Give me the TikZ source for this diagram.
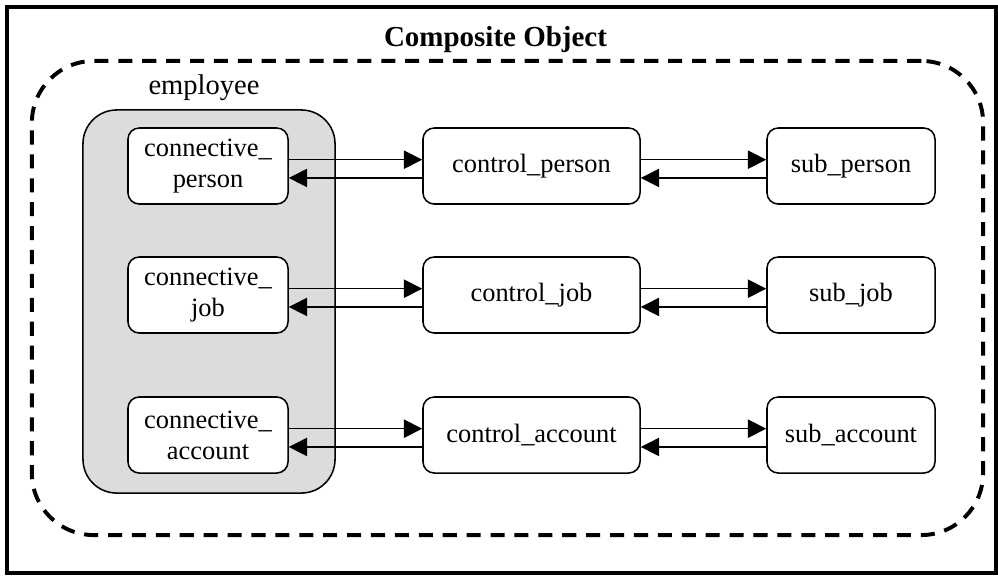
\documentclass[tikz,border=0pt]{standalone}
\usepackage{fontspec}
\setmainfont{Liberation Serif}
\usepackage{tikz}
\usetikzlibrary{arrows.meta,positioning}
\definecolor{shade}{HTML}{DCDCDC}
\tikzset{
  frame/.style   ={draw=black, line width=2.4pt},
  compbox/.style ={draw=black, line width=2.8pt, dash pattern=on 10pt off 7pt,
                   rounded corners=44pt, minimum width=23.775cm, minimum height=11.85cm},
  group/.style   ={draw=black, line width=1.1pt, fill=shade, rounded corners=24pt,
                   minimum width=6.3cm, minimum height=9.575cm},
  unit/.style    ={draw=black, line width=1.1pt, fill=white, rounded corners=8pt,
                   minimum height=1.9cm, align=center, inner sep=2pt,
                   font=\fontsize{18.8}{22}\selectfont},
  conn/.style    ={unit, minimum width=4cm},
  ctrl/.style    ={unit, minimum width=5.425cm},
  sub/.style     ={unit, minimum width=4.2cm},
  grplab/.style  ={font=\fontsize{20.3}{24}\selectfont},
  ttl/.style     ={font=\fontsize{20.6}{24}\selectfont\bfseries},
  link/.style    ={draw=black, line width=1pt, -{Triangle[length=13pt,width=13pt]}},
}

\begin{document}
\begin{tikzpicture}[x=0.025cm,y=-0.025cm]
  \useasboundingbox (0,0) rectangle (998,575);

  % ---------------------------------------------------------------- frame
  \draw[frame] (7,7) rectangle (996,573);
  \node[compbox] (comp) at (507.5,298) {};
  \node[ttl]     (compn) at (495.5,40) {Composite Object};

  % ---------------------------------------------------------------- employee
  \node[group]   (emp)  at (209,301.5) {};
  \node[grplab]  (empn) at (204,88) {employee};

  % ---------------------------------------------------------------- rows
  \node[conn] (cperson)  at (208,166) {connective\_\\person};
  \node[conn] (cjob)     at (208,295) {connective\_\\job};
  \node[conn] (caccount) at (208,435) {connective\_\\account};

  \node[ctrl] (tperson)  at (531.5,166) {control\_person};
  \node[ctrl] (tjob)     at (531.5,295) {control\_job};
  \node[ctrl] (taccount) at (531.5,435) {control\_account};

  \node[sub]  (sperson)  at (851,166) {sub\_person};
  \node[sub]  (sjob)     at (851,295) {sub\_job};
  \node[sub]  (saccount) at (851,435) {sub\_account};

  % ---------------------------------------------------------------- links
  % each pair: request on top, reply underneath
  \foreach \a/\b in {cperson/tperson, cjob/tjob, caccount/taccount,
                     tperson/sperson, tjob/sjob, taccount/saccount} {
    \draw[link] ([yshift=4.5pt]\a.east) -- ([yshift=4.5pt]\b.west);
    \draw[link] ([yshift=-8.5pt]\b.west) -- ([yshift=-8.5pt]\a.east);
  }
\end{tikzpicture}
\end{document}
